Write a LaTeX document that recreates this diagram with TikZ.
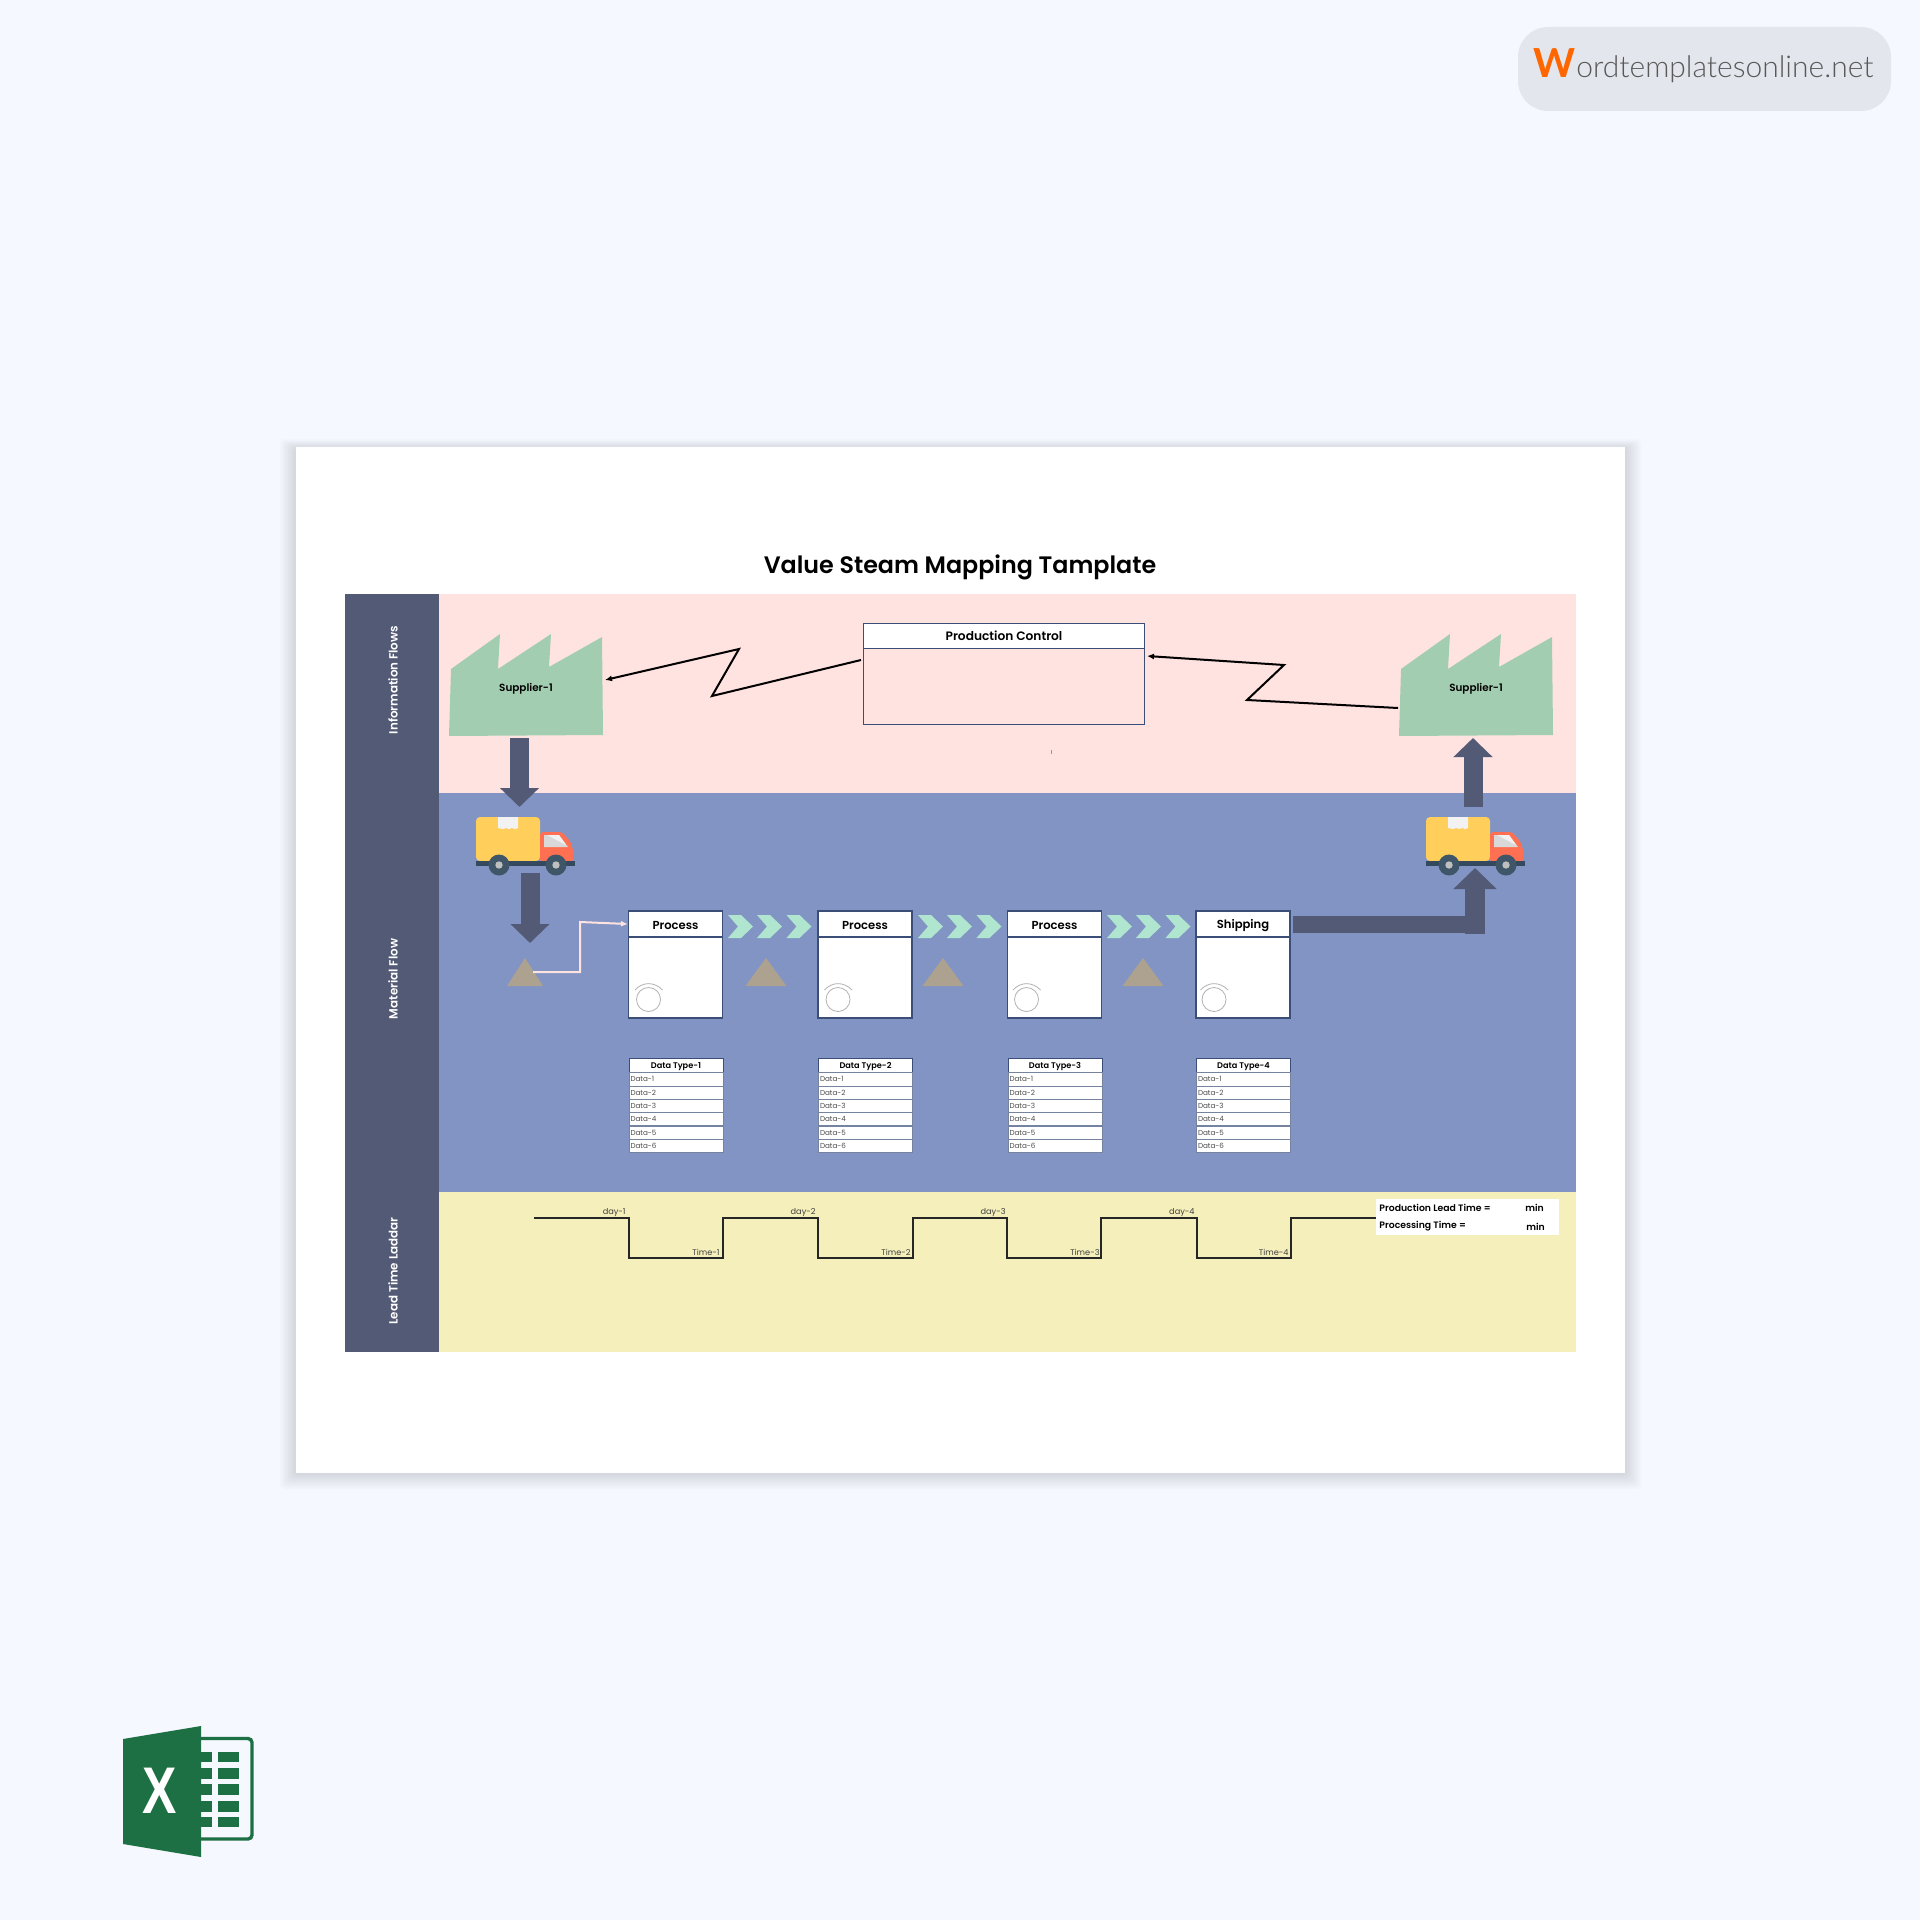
\documentclass[tikz,border=0pt]{standalone}
\usepackage{fontspec}
\usepackage{xcolor}
\usetikzlibrary{arrows.meta}
\setmainfont{Poppins}[BoldFont={Poppins SemiBold}]
\newfontfamily\logofont{Lato Light}
\newfontfamily\logoboldfont{Lato}
\newfontfamily\excelfont{Liberation Sans}

\definecolor{pagebg}{HTML}{F5F8FF}
\definecolor{laneslate}{HTML}{535A75}
\definecolor{lanepink}{HTML}{FFE3E0}
\definecolor{laneblue}{HTML}{8294C4}
\definecolor{laneyellow}{HTML}{F5EFBB}
\definecolor{factorygreen}{HTML}{A3CDB0}
\definecolor{pushgreen}{HTML}{B0E6CF}
\definecolor{stocktan}{HTML}{ADA28F}
\definecolor{boxedge}{HTML}{3A4E78}
\definecolor{excelgreen}{HTML}{1D7044}

\tikzset{
  lanetext/.style={rotate=90,text=white,font=\fontsize{5.95}{7}\selectfont\bfseries},
  flowarrow/.style={line width=9.5pt,draw=laneslate,-{Triangle[length=9.5pt,width=19pt]}},
  infoarrow/.style={draw=black,line width=1pt,-{Latex[length=3.5pt,width=3pt]}},
  prochead/.style={draw=boxedge,line width=0.6pt,fill=white,minimum width=47pt,minimum height=13pt,inner sep=0pt,font=\fontsize{5.8}{7}\selectfont\bfseries},
  procbody/.style={draw=boxedge,line width=0.6pt,fill=white,minimum width=47pt,minimum height=40.5pt,inner sep=0pt},
  datahead/.style={draw=boxedge,line width=0.5pt,fill=white,minimum width=47pt,minimum height=6.6pt,inner sep=0pt,font=\fontsize{4.1}{5}\selectfont\bfseries},
  datarow/.style={draw=boxedge!70,line width=0.4pt,fill=white,minimum width=47pt,minimum height=6.6pt,inner sep=0pt,text width=45.5pt,align=left,text=black!70,font=\fontsize{3.6}{4.5}\selectfont},
  ladderline/.style={draw=black!85,line width=0.6pt},
  laddertext/.style={inner sep=0pt,text=black!75,font=\fontsize{4.1}{5}\selectfont},
  leadtext/.style={inner sep=0pt,font=\fontsize{4.65}{5}\selectfont\bfseries},
}

\begin{document}
\begin{tikzpicture}[x=0.5pt,y=-0.5pt]
  \useasboundingbox (0,0) rectangle (1920,1920);
  \fill[pagebg] (0,0) rectangle (1920,1920);

  % sheet with soft edge
  \foreach \s in {2,4,...,16}
    \fill[black,opacity=0.016,rounded corners=2pt] (296-\s,447-0.6*\s+2) rectangle (1625+\s,1473+\s);
  \fill[white] (296,447) rectangle (1625,1473);

  % lanes
  \fill[lanepink] (439,594) rectangle (1576,793);
  \fill[laneblue] (439,793) rectangle (1576,1192);
  \fill[laneyellow] (439,1192) rectangle (1576,1352);
  \fill[laneslate] (345,594) rectangle (439,1352);
  \node (title) [font=\fontsize{11.9}{15}\selectfont\bfseries] at (960,567) {Value Steam Mapping Tamplate};
  \node (laneinfo) [lanetext] at (393,680) {Information Flows};
  \node (lanematerial) [lanetext] at (393,979) {Material Flow};
  \node (laneladder) [lanetext] at (393,1271) {Lead Time Laddar};

  % suppliers
  \foreach \x/\n in {0/supplierleft,950/supplierright} {
    \fill[factorygreen] (451+\x,669) -- (500+\x,634) -- (498+\x,669) -- (551+\x,634) -- (549+\x,667)
      -- (602+\x,637) -- (603+\x,735) -- (449+\x,736) -- cycle;
    \node (\n) [inner sep=0pt,font=\fontsize{5.2}{6}\selectfont\bfseries] at (526+\x,689) {Supplier-1};
  }

  % production control
  \node (controlhead) [prochead,line width=0.4pt,minimum width=140.5pt,minimum height=12.5pt,font=\fontsize{6.1}{7}\selectfont\bfseries] at (1004,636) {Production Control};
  \node (controlbody) [procbody,line width=0.4pt,minimum width=140.5pt,minimum height=38pt,fill=none] at (1004,686) {};
  \coordinate (zigla) at (861,660);
  \coordinate (ziglb) at (712,696);
  \coordinate (ziglc) at (739,649);
  \coordinate (zigld) at (605,680);
  \draw[infoarrow] (zigla) -- (ziglb) -- (ziglc) -- (zigld);
  \coordinate (zigra) at (1398,708);
  \coordinate (zigrb) at (1247,700);
  \coordinate (zigrc) at (1284,665);
  \coordinate (zigrd) at (1147,656);
  \draw[infoarrow] (zigra) -- (zigrb) -- (zigrc) -- (zigrd);
  \draw[black!40,line width=0.3pt] (1051,750) -- (1051,754);

  % trucks
  \foreach \x in {476,1426} {
    \begin{scope}[shift={(\x,817)}]
      \fill[rounded corners=2pt,fill={rgb,255:red,255;green,206;blue,91}] (0,44) -- (0,0) -- (64,0) -- (64,44) -- cycle;
      \fill[white!95!black] (22,0) -- (42,0) -- (42,11) -- (39,12) -- (36,11) -- (33,12) -- (30,11) -- (27,12) -- (22,11) -- cycle;
      \fill[fill={rgb,255:red,255;green,112;blue,82},rounded corners=1.5pt] (64,15) -- (86,15) -- (94,24) -- (97,32) -- (97,45) -- (64,45) -- cycle;
      \fill[black!15] (68,18) -- (83,18) -- (92,30) -- (68,30) -- cycle;
      \fill[black!5] (71,18) -- (83,18) -- (90,28) -- cycle;
      \fill[fill={rgb,255:red,52;green,73;blue,94}] (0,44) rectangle (99,49);
      \foreach \w in {23,80} {
        \fill[fill={rgb,255:red,62;green,86;blue,103}] (\w,48) circle (10.5);
        \fill[black!25] (\w,48) circle (3.7);
      }
    \end{scope}
  }

  % flow arrows
  \coordinate (dropstart) at (519.5,738);
  \coordinate (droptip) at (519.5,807);
  \draw[flowarrow] (dropstart) -- (droptip);
  \coordinate (truckstart) at (530,873);
  \coordinate (trucktip) at (530,943);
  \draw[flowarrow] (truckstart) -- (trucktip);
  \coordinate (upstart) at (1473,807);
  \coordinate (uptip) at (1473,738);
  \draw[flowarrow] (upstart) -- (uptip);

  % stations
  \foreach \x/\n/\t/\e in {675.5/1/Process/648.5,865/2/Process/838,1054.5/3/Process/1026.5,1243/4/Shipping/1214} {
    \node (body\n) [procbody] at (\x,977.5) {};
    \node (head\n) [prochead] at (\x,924) {};
    \node (label\n) [inner sep=0pt,font=\fontsize{5.8}{7}\selectfont\bfseries] at (\x,925.5) {\t};
    \draw[black!30,line width=0.4pt] (\e,999.5) circle (12);
    \draw[black!30,line width=0.4pt] (\e-13.5,990) .. controls (\e-6,981.5) and (\e+6,981.5) .. (\e+14,990);
    \node (type\n) [datahead] at (\x+0.5,1065.5) {};
    \node (typelabel\n) [inner sep=0pt,font=\fontsize{4.1}{5}\selectfont\bfseries] at (\x+0.5,1066.5) {Data Type-\n};
    \foreach \r in {1,...,6}
      \node (data\n\r) [datarow] at (\x+0.5,1066+13.3*\r) {Data-\r};
  }

  % push chevrons
  \foreach \x in {728,757,786.5,918,947,976.5,1107,1136,1165.5}
    \fill[pushgreen] (\x,915) -- (\x+13,915) -- (\x+25,926.5) -- (\x+13,938) -- (\x,938) -- (\x+10,926.5) -- cycle;

  % stock triangles
  \foreach \x/\w in {525/18,766/20.5,943/20.5,1143/20.5}
    \fill[stocktan] (\x-\w,986) -- (\x,958) -- (\x+\w,986) -- cycle;

  \coordinate (stockout) at (533,972);
  \draw[draw=lanepink,line width=1pt,-{Latex[length=3.5pt,width=3pt]}] (stockout) -- (580,972) -- (580,922) -- (head1.west);

  % shipping to truck
  \coordinate (shipfrom) at (1293,924.5);
  \coordinate (shipturn) at (1475,924.5);
  \draw[draw=laneslate,line width=8.7pt] (shipfrom) -- (shipturn);
  \coordinate (shipbase) at (1475,934);
  \coordinate (shiptip) at (1475,868);
  \draw[flowarrow,line width=10pt,-{Triangle[length=10.5pt,width=21pt]}] (shipbase) -- (shiptip);

  % ladder
  \coordinate (ladderstart) at (534,1218);
  \coordinate (ladderend) at (1376,1218);
  \draw[ladderline] (ladderstart) -- (629,1218) -- (629,1258) -- (723,1258) -- (723,1218) -- (818,1218)
    -- (818,1258) -- (913,1258) -- (913,1218) -- (1007,1218) -- (1007,1258) -- (1101,1258) -- (1101,1218)
    -- (1197,1218) -- (1197,1258) -- (1291,1258) -- (1291,1218) -- (ladderend);
  \foreach \x/\k in {626/1,816/2,1006/3,1195/4}
    \node (day\k) [laddertext,anchor=east] at (\x,1213) {day-\k};
  \foreach \x/\k in {720/1,911/2,1100/3,1289/4}
    \node (time\k) [laddertext,anchor=east] at (\x,1252.5) {Time-\k};

  % totals
  \fill[white] (1376,1199) rectangle (1559,1235);
  \node (leadlabel) [leadtext,anchor=west] at (1379,1208) {Production Lead Time =};
  \node (proclabel) [leadtext,anchor=west] at (1379,1226.5) {Processing Time =};
  \node (leadmin) [leadtext] at (1534.5,1208) {min};
  \node (procmin) [leadtext] at (1535.5,1226.5) {min};

  % logo badge
  \fill[fill={rgb,255:red,227;green,230;blue,236},rounded corners=15pt] (1518,27) rectangle (1891,111);
  \node (logow) [anchor=base west,inner sep=0pt,text={rgb,255:red,255;green,102;blue,0},font=\fontsize{20}{24}\selectfont\logoboldfont\bfseries] at (1533,78) {W};
  \node (logotext) [anchor=base west,inner sep=0pt,text=black!65,font=\fontsize{15}{18}\selectfont\logofont] at (logow.base east) {ordtemplatesonline.net};

  % spreadsheet icon
  \draw[excelgreen,line width=1.7pt,rounded corners=2pt] (201,1738.5) -- (252,1738.5) -- (252,1839) -- (201,1839);
  \foreach \y/\h in {1752/10,1768/11,1784/11,1801/11,1817/10} {
    \fill[excelgreen] (201,\y) rectangle (212,\y+\h);
    \fill[excelgreen] (218,\y) rectangle (239,\y+\h);
  }
  \fill[excelgreen] (123,1739) -- (201,1726) -- (201,1857) -- (123,1844) -- cycle;
  \node (excelx) [inner sep=0pt,text=white,xscale=0.78,font=\fontsize{33}{36}\selectfont\excelfont\bfseries] at (159.5,1790.5) {X};
\end{tikzpicture}
\end{document}
